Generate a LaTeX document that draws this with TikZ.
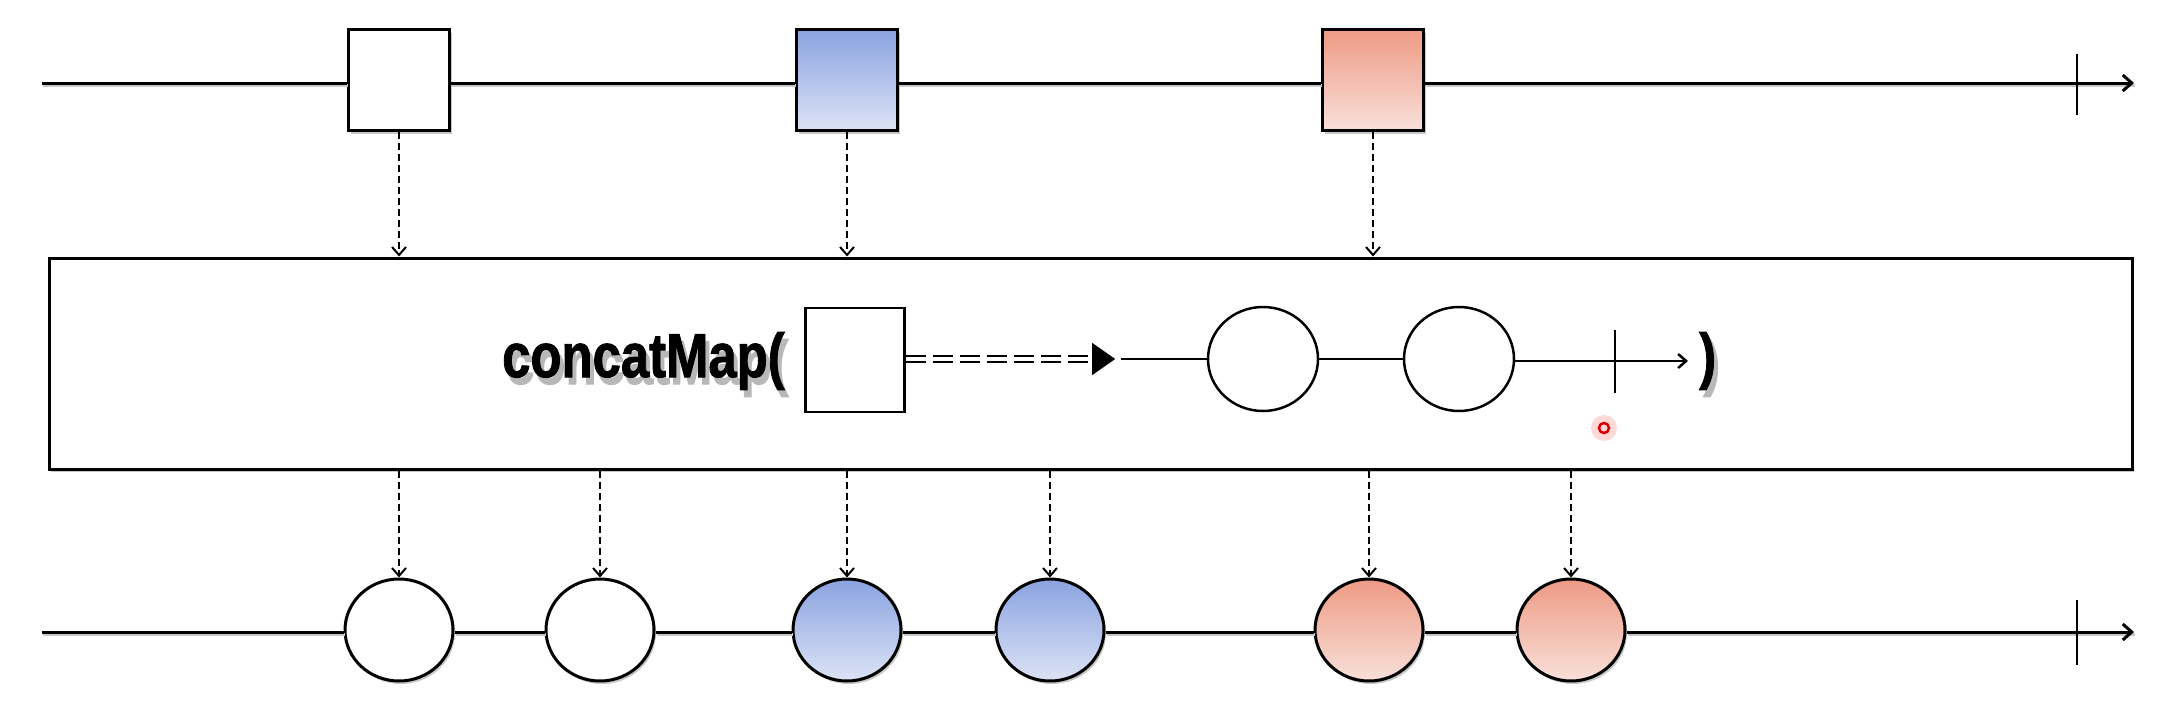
\documentclass[tikz,border=0pt]{standalone}
\usepackage{fontspec}
\usepackage{graphicx}
\newfontfamily\cmfont[FakeBold=1.6]{Liberation Sans Bold}
\usetikzlibrary{arrows.meta,shapes.geometric,shadows}
\definecolor{bluetop}{HTML}{8AA2E0}
\definecolor{bluebot}{HTML}{DCE3F5}
\definecolor{redtop}{HTML}{EE9A84}
\definecolor{redbot}{HTML}{F8E0DA}
\newcommand{\cmtext}[1]{\scalebox{0.82}[1]{\cmfont\fontsize{62}{62}\selectfont #1}}
\newcommand{\shtext}[1]{\makebox[0pt][l]{\hspace{4pt}\raisebox{-7pt}{\color{black!28}\cmtext{#1}}}\cmtext{#1}}
\tikzset{
  tline/.style={line width=3pt},
  shline/.style={line width=3pt, draw=black!22, transform canvas={yshift=-2.5pt,xshift=1pt}},
  tltip/.style={-{Straight Barb[length=9pt,width=16pt,line width=3pt]}},
  sh/.style={drop shadow={shadow xshift=2pt,shadow yshift=-3pt,opacity=0.22,fill=black}},
  sqbox/.style={draw, line width=3pt, minimum width=101pt, minimum height=101pt, inner sep=0pt, fill=white, sh},
  isq/.style={draw, line width=2.5pt, minimum width=99pt, minimum height=104pt, inner sep=0pt, fill=white},
  bigcirc/.style={ellipse, draw, line width=3pt, minimum width=108pt, minimum height=102pt, inner sep=0pt, fill=white, sh},
  icirc/.style={ellipse, draw, line width=2.5pt, minimum width=110pt, minimum height=104pt, inner sep=0pt, fill=white},
  bluefill/.style={shading=axis, top color=bluetop, bottom color=bluebot},
  redfill/.style={shading=axis, top color=redtop, bottom color=redbot},
  dasharrow/.style={line width=2pt, dash pattern=on 7pt off 4pt, -{Straight Barb[length=8pt,width=14pt,line width=2pt]}},
  ticklen/.style={line width=2.2pt},
  txt/.style={anchor=base west, inner sep=0pt},
}
\begin{document}
\begin{tikzpicture}[x=1pt,y=-1pt]
\useasboundingbox (0,0) rectangle (2174,704);
\fill[white] (0,0) rectangle (2174,704);

% ---------- top row ----------
\coordinate (tl0) at (42,83);
\coordinate (tlend) at (2134,83);
\node[sqbox] (s1) at (399,80) {};
\node[sqbox, bluefill] (s2) at (847,80) {};
\node[sqbox, redfill] (s3) at (1373,80) {};
\draw[shline] (tl0) -- (s1.west |- tl0);
\draw[shline] (s1.east |- tl0) -- (s2.west |- tl0);
\draw[shline] (s2.east |- tl0) -- (s3.west |- tl0);
\draw[shline] (s3.east |- tl0) -- (tlend);
\draw[tline] (tl0) -- (s1.west |- tl0);
\draw[tline] (s1.east |- tl0) -- (s2.west |- tl0);
\draw[tline] (s2.east |- tl0) -- (s3.west |- tl0);
\draw[tline, tltip] (s3.east |- tl0) -- (tlend);
\draw[ticklen] (2077,54) -- (2077,115);

% ---------- operator box ----------
\node[draw, line width=3pt, minimum width=2083pt, minimum height=211pt, inner sep=0pt, sh, fill=white] (box) at (1090.5,363.5) {};

\draw[dasharrow] (s1.south) -- (s1.south |- box.north);
\draw[dasharrow] (s2.south) -- (s2.south |- box.north);
\draw[dasharrow] (s3.south) -- (s3.south |- box.north);

% label with shadow
\node[txt] (lbl) at (502,377) {\shtext{concatMap(}};
\node[txt] (rp) at (1699,377) {\shtext{)}};

\node[isq] (is) at (855,360) {};
\coordinate (dbend) at (1093,359);
\draw[line width=2pt, double=white, double distance=3.5pt, dash pattern=on 20pt off 7pt] (is.east |- dbend) -- (dbend);
\node[isosceles triangle, isosceles triangle apex angle=70, fill=black, inner sep=0pt, minimum height=23pt, anchor=west] (tri) at (1092,359) {};
\node[icirc] (ic1) at (1263,359) {};
\node[icirc] (ic2) at (1459,359) {};
\coordinate (iend) at (1688,361);
\draw[line width=2.5pt] ([xshift=5pt]tri.east) -- (ic1.west);
\draw[line width=2.5pt] (ic1.east) -- (ic2.west);
\draw[line width=2.5pt, -{Straight Barb[length=8pt,width=14pt,line width=2.5pt]}] (ic2.east |- iend) -- (iend);
\draw[line width=2.2pt] (1615,330) -- (1615,393);

% cursor highlight
\fill[red!25, opacity=0.6] (1604,428) circle (13pt);
\draw[red!85!black, line width=2.5pt, fill=red!15] (1604,428) circle (5pt);

% ---------- bottom row ----------
\coordinate (bl0) at (42,632);
\coordinate (blend) at (2134,632);
\node[bigcirc] (c1) at (399,630) {};
\node[bigcirc] (c2) at (600,630) {};
\node[bigcirc, bluefill] (c3) at (847,630) {};
\node[bigcirc, bluefill] (c4) at (1050,630) {};
\node[bigcirc, redfill] (c5) at (1369,630) {};
\node[bigcirc, redfill] (c6) at (1571,630) {};
\draw[shline] (bl0) -- (c1.west |- bl0);
\draw[shline] (c1.east |- bl0) -- (c2.west |- bl0);
\draw[shline] (c2.east |- bl0) -- (c3.west |- bl0);
\draw[shline] (c3.east |- bl0) -- (c4.west |- bl0);
\draw[shline] (c4.east |- bl0) -- (c5.west |- bl0);
\draw[shline] (c5.east |- bl0) -- (c6.west |- bl0);
\draw[shline] (c6.east |- bl0) -- (blend);
\draw[tline] (bl0) -- (c1.west |- bl0);
\draw[tline] (c1.east |- bl0) -- (c2.west |- bl0);
\draw[tline] (c2.east |- bl0) -- (c3.west |- bl0);
\draw[tline] (c3.east |- bl0) -- (c4.west |- bl0);
\draw[tline] (c4.east |- bl0) -- (c5.west |- bl0);
\draw[tline] (c5.east |- bl0) -- (c6.west |- bl0);
\draw[tline, tltip] (c6.east |- bl0) -- (blend);
\draw[ticklen] (2077,600) -- (2077,665);

\foreach \c in {c1,c2,c3,c4,c5,c6}{
  \draw[dasharrow] (box.south -| \c.north) -- (\c.north);
}
\end{tikzpicture}
\end{document}
